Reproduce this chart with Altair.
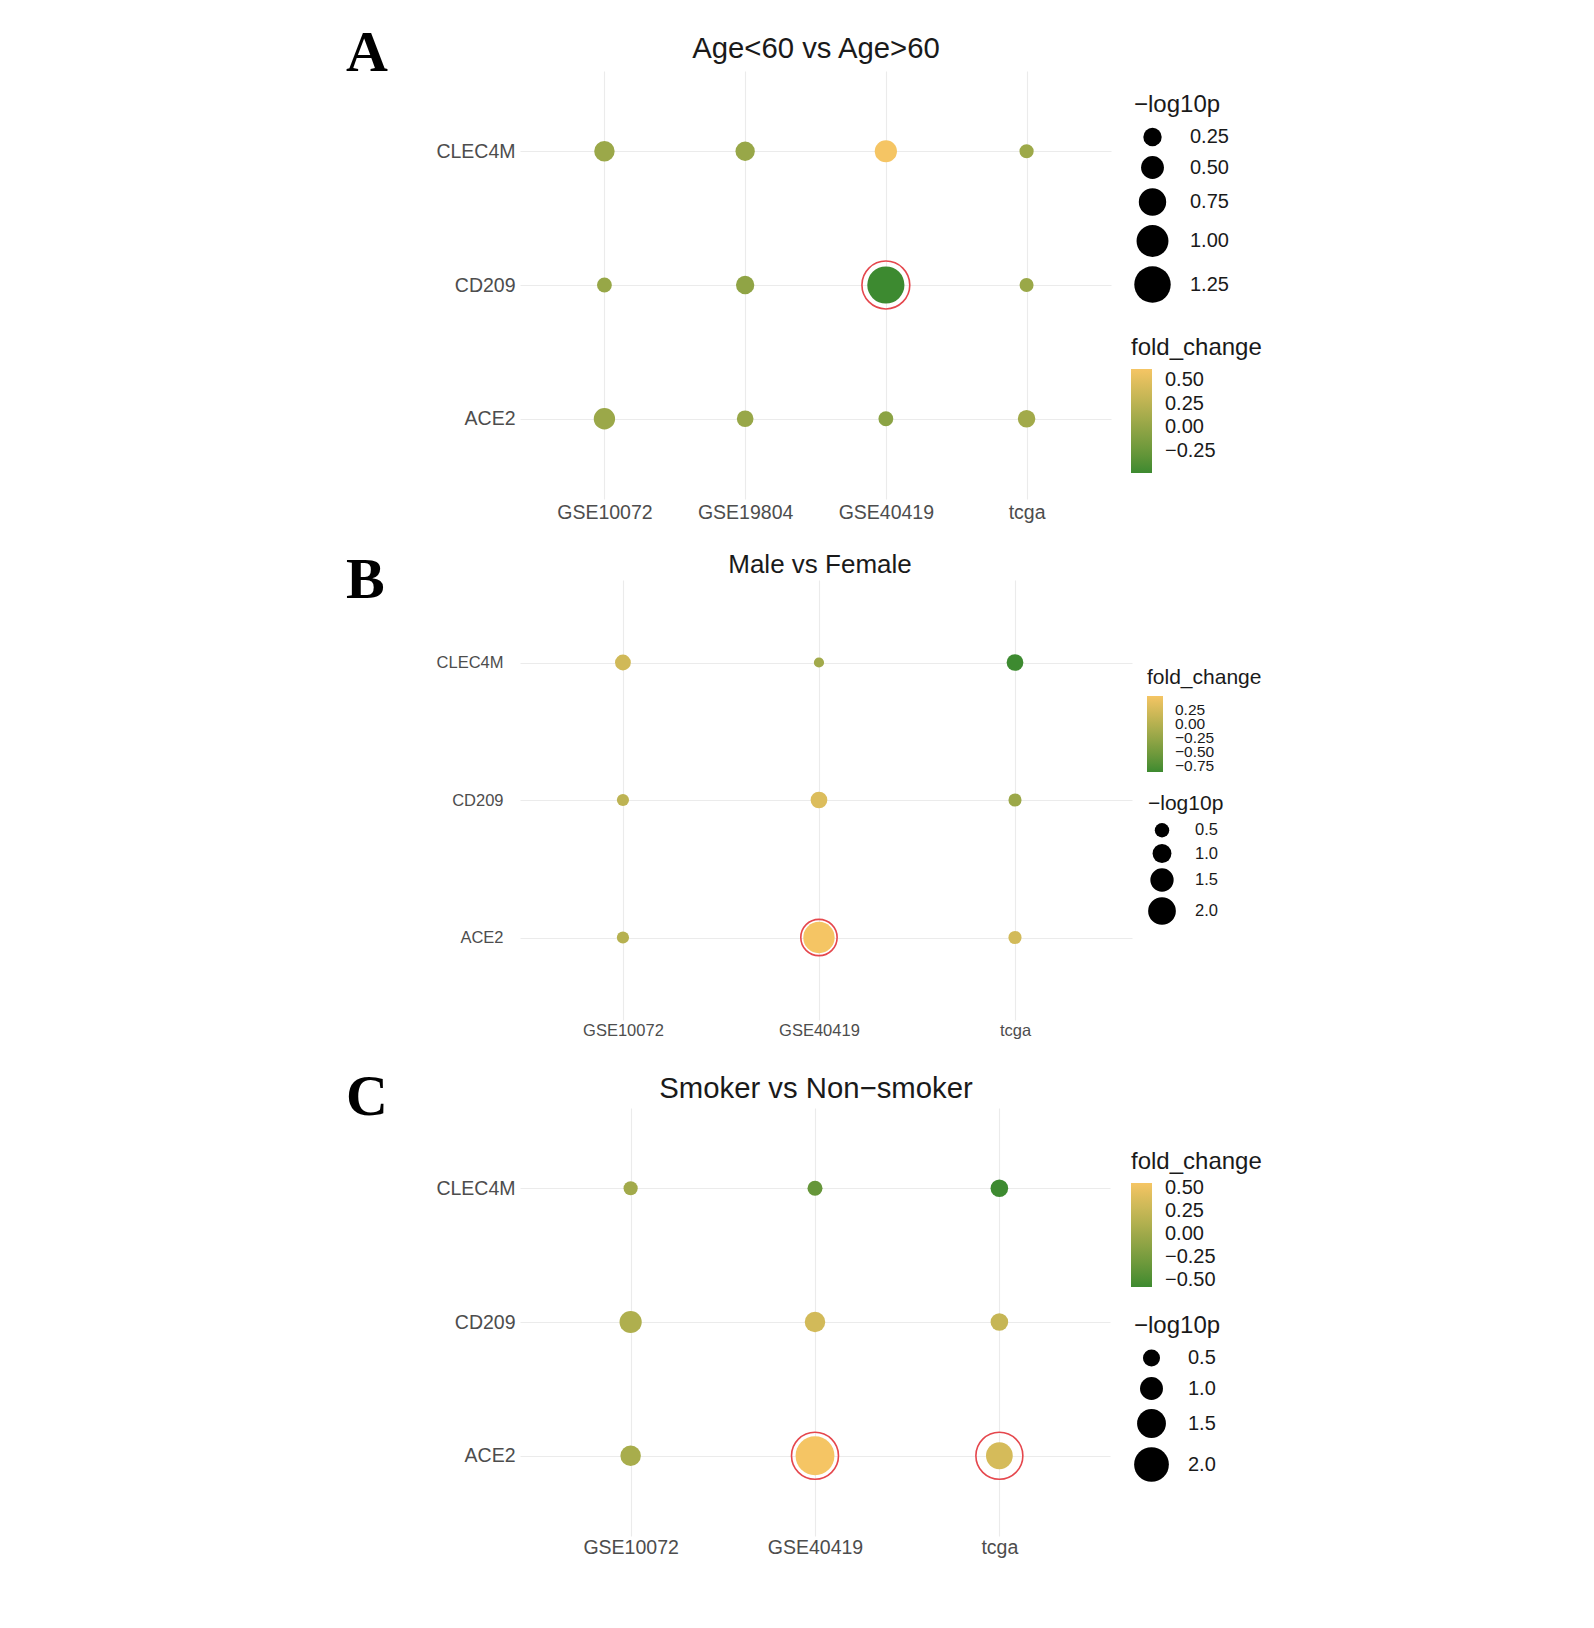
import math
import altair as alt
import pandas as pd

GENES = ["CLEC4M", "CD209", "ACE2"]

# ---- Panel A : Age<60 vs Age>60 ----
A_DATASETS = ["GSE10072", "GSE19804", "GSE40419", "tcga"]
A_FOLD_CHANGE = [  # rows: CLEC4M, CD209, ACE2
    [0.05, 0.03, 0.62, 0.06],
    [0.02, -0.02, -0.49, 0.04],
    [0.05, 0.03, -0.05, 0.09],
]
A_LOG10P = [
    [0.36, 0.30, 0.46, 0.02],
    [0.05, 0.25, 1.29, 0.01],
    [0.41, 0.15, 0.05, 0.20],
]
A_SIGNIFICANT = [
    [False, False, False, False],
    [False, False, True, False],
    [False, False, False, False],
]

# ---- Panel B : Male vs Female ----
B_DATASETS = ["GSE10072", "GSE40419", "tcga"]
B_FOLD_CHANGE = [
    [0.20, -0.15, -0.86],
    [0.06, 0.30, -0.20],
    [0.00, 0.49, 0.22],
]
B_LOG10P = [
    [0.64, 0.02, 0.74],
    [0.22, 0.74, 0.33],
    [0.22, 2.40, 0.33],
]
B_SIGNIFICANT = [
    [False, False, False],
    [False, False, False],
    [False, True, False],
]

# ---- Panel C : Smoker vs Non-smoker ----
C_DATASETS = ["GSE10072", "GSE40419", "tcga"]
C_FOLD_CHANGE = [
    [0.02, -0.36, -0.58],
    [0.10, 0.33, 0.25],
    [0.06, 0.56, 0.35],
]
C_LOG10P = [
    [0.23, 0.30, 0.54],
    [0.93, 0.77, 0.54],
    [0.77, 2.34, 1.31],
]
C_SIGNIFICANT = [
    [False, False, False],
    [False, False, False],
    [False, True, True],
]

GREEN = "#3d8a30"
ORANGE = "#f5c564"
RING = "#e5474d"
FONT = "Liberation Sans"


def make_df(datasets, fc, logp, sig):
    rows = []
    for gi, g in enumerate(GENES):
        for di, d in enumerate(datasets):
            rows.append({
                "dataset": d, "gene": g,
                "fold_change": fc[gi][di],
                "logp": logp[gi][di],
                "sig": sig[gi][di],
            })
    return pd.DataFrame(rows)


def panel(letter, title, datasets, fc, logp, sig, st):
    df = make_df(datasets, fc, logp, sig)
    fmin = min(min(r) for r in fc)
    fmax = max(max(r) for r in fc)

    stops = st["size_stops"]
    areas = [math.pi / 4 * (st["d0"] + st["dk"] * v) ** 2 for v in stops]

    x_enc = alt.X(
        "dataset:N", sort=datasets, title=None,
        scale=alt.Scale(type="point", padding=st["xpadding"], align=st["xalign"]),
        axis=alt.Axis(domain=False, ticks=False, labelAngle=0,
                      labelFont=FONT, labelFontSize=st["tick_fs"],
                      labelColor="#4d4d4d", labelPadding=st["xpad"],
                      grid=True, gridColor="#ebebeb", gridWidth=1.1),
    )
    y_enc = alt.Y(
        "gene:N", sort=GENES, title=None,
        scale=alt.Scale(type="point", padding=0.6),
        axis=alt.Axis(domain=False, ticks=False,
                      labelFont=FONT, labelFontSize=st["tick_fs"],
                      labelColor="#4d4d4d", labelPadding=st["ypad"],
                      grid=True, gridColor="#ebebeb", gridWidth=1.1),
    )

    color_legend = alt.Legend(
        title="fold_change", orient="none", direction="vertical",
        legendX=st["cl_x"], legendY=st["cl_y"],
        values=st["fc_ticks"], format=".2f",
        labelOverlap=False,
        gradientLength=st["grad_len"], gradientThickness=st["grad_th"],
        gradientStrokeWidth=0,
        titleFont=FONT, titleFontSize=st["lt_fs"], titleFontWeight="normal",
        titleColor="#1a1a1a", titlePadding=st["cl_tpad"],
        labelFont=FONT, labelFontSize=st["ll_fs"], labelColor="#1a1a1a",
        labelOffset=st["cl_loff"],
    )
    size_legend = alt.Legend(
        title="\u2212log10p", orient="none", direction="vertical",
        legendX=st["sl_x"], legendY=st["sl_y"],
        values=st["size_ticks"], format=st["size_fmt"],
        symbolType="circle", symbolFillColor="black",
        symbolStrokeColor="black", symbolStrokeWidth=0, symbolOpacity=1,
        titleFont=FONT, titleFontSize=st["lt_fs"], titleFontWeight="normal",
        titleColor="#1a1a1a", titlePadding=st["sl_tpad"],
        labelFont=FONT, labelFontSize=st["sl_fs"], labelColor="#1a1a1a",
        labelOffset=st["sl_loff"], rowPadding=st["sl_rpad"],
    )

    base = alt.Chart(df)
    dots = base.mark_circle(opacity=1).encode(
        x=x_enc, y=y_enc,
        color=alt.Color("fold_change:Q",
                        scale=alt.Scale(domain=[fmin, fmax],
                                        range=[GREEN, ORANGE],
                                        interpolate="lab", zero=False, nice=False),
                        legend=color_legend),
        size=alt.Size("logp:Q",
                      scale=alt.Scale(domain=stops, range=areas,
                                      zero=False, nice=False),
                      legend=size_legend),
    )
    rings = base.transform_filter("datum.sig").mark_point(
        shape="circle", filled=False, stroke=RING, strokeWidth=1.6,
        opacity=1, size=st["ring"],
    ).encode(x=x_enc, y=y_enc)

    one = pd.DataFrame({"letter": [letter], "title": [title]})
    lab = alt.Chart(one).mark_text(
        font="Liberation Serif", fontWeight="bold", fontSize=58,
        align="left", baseline="alphabetic", color="black",
    ).encode(text="letter:N", x=alt.value(st["let_x"]), y=alt.value(st["let_y"]))
    ttl = alt.Chart(one).mark_text(
        font=FONT, fontSize=st["title_fs"], align="center",
        baseline="alphabetic", color="#1a1a1a",
    ).encode(text="title:N", x=alt.value(st["title_x"]), y=alt.value(st["title_y"]))

    return alt.layer(dots, rings, lab, ttl).properties(width=st["w"], height=st["h"])


STYLE_A = dict(
    w=591, h=428, tick_fs=19.5, xpad=4, ypad=5, xpadding=0.6, xalign=0.5,
    title_fs=29.3, title_x=296, title_y=-13,
    let_x=-174, let_y=0,
    size_stops=[0, 0.25, 0.5, 0.75, 1.0, 1.25, 1.5], d0=15.6, dk=20.4,
    size_ticks=[0.25, 0.5, 0.75, 1.0, 1.25], size_fmt=".2f",
    fc_ticks=[0.5, 0.25, 0.0, -0.25],
    ring=2290,
    lt_fs=24, ll_fs=20, sl_fs=20,
    cl_x=611, cl_y=265, cl_tpad=9, cl_loff=13, grad_len=104, grad_th=21,
    sl_x=614, sl_y=22, sl_tpad=10, sl_loff=19, sl_rpad=9,
)
STYLE_B = dict(
    w=612, h=440, tick_fs=16.5, xpad=2, ypad=17, xpadding=0.561, xalign=0.468,
    title_fs=26, title_x=300, title_y=-7,
    let_x=-174, let_y=18,
    size_stops=[0, 0.5, 1.0, 1.5, 2.0, 2.5], d0=11.3, dk=10.0,
    size_ticks=[0.5, 1.0, 1.5, 2.0], size_fmt=".1f",
    fc_ticks=[0.25, 0.0, -0.25, -0.5, -0.75],
    ring=1320,
    lt_fs=21, ll_fs=15.5, sl_fs=16.5,
    cl_x=627, cl_y=87, cl_tpad=8, cl_loff=12, grad_len=76, grad_th=16,
    sl_x=628, sl_y=213, sl_tpad=8, sl_loff=19, sl_rpad=5,
)
STYLE_C = dict(
    w=590, h=428, tick_fs=19.5, xpad=2.5, ypad=5, xpadding=0.6, xalign=0.5,
    title_fs=29.3, title_x=296, title_y=-10,
    let_x=-174, let_y=7,
    size_stops=[0, 0.5, 1.0, 1.5, 2.0, 2.5], d0=12.6, dk=13.3,
    size_ticks=[0.5, 1.0, 1.5, 2.0], size_fmt=".1f",
    fc_ticks=[0.5, 0.25, 0.0, -0.25, -0.5],
    ring=2206,
    lt_fs=24, ll_fs=20, sl_fs=20,
    cl_x=611, cl_y=42, cl_tpad=9, cl_loff=13, grad_len=104, grad_th=21,
    sl_x=614, sl_y=206, sl_tpad=10, sl_loff=19, sl_rpad=9,
)

pa = panel("A", "Age<60 vs Age>60", A_DATASETS, A_FOLD_CHANGE, A_LOG10P, A_SIGNIFICANT, STYLE_A)
pb = panel("B", "Male vs Female", B_DATASETS, B_FOLD_CHANGE, B_LOG10P, B_SIGNIFICANT, STYLE_B)
pc = panel("C", "Smoker vs Non\u2212smoker", C_DATASETS, C_FOLD_CHANGE, C_LOG10P, C_SIGNIFICANT, STYLE_C)

chart = alt.vconcat(pa, pb, pc, spacing=30).resolve_scale(
    x="independent", y="independent", color="independent", size="independent"
).resolve_legend(color="independent", size="independent").properties(
    padding={"left": 338, "top": 17, "right": 5, "bottom": 5},
    background="white",
).configure_view(stroke=None)

chart.save("out.html", embed_options={"renderer": "svg", "actions": False})
